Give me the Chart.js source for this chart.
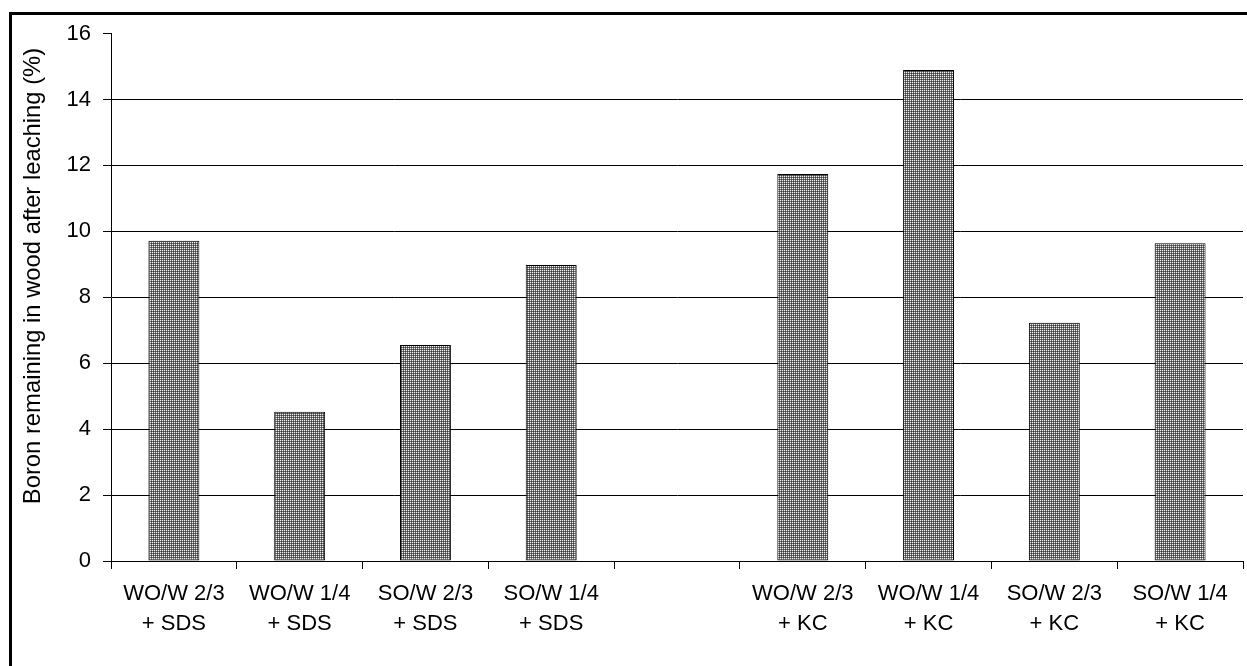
<!DOCTYPE html>
<html>
<head>
<meta charset="utf-8">
<script src="https://cdn.jsdelivr.net/npm/chart.js@4/dist/chart.umd.min.js"></script>
<style>
  html, body { margin: 0; padding: 0; background: #fff; }
  #wrap { width: 1247px; height: 666px; position: relative; }
</style>
</head>
<body>
<div id="wrap"><canvas id="c" width="1247" height="666"></canvas></div>
<script>
// ---- data ----
const categories = [
  ['WO/W 2/3', '+ SDS'],
  ['WO/W 1/4', '+ SDS'],
  ['SO/W 2/3', '+ SDS'],
  ['SO/W 1/4', '+ SDS'],
  '',
  ['WO/W 2/3', '+ KC'],
  ['WO/W 1/4', '+ KC'],
  ['SO/W 2/3', '+ KC'],
  ['SO/W 1/4', '+ KC']
];
const boronRemaining = [9.71, 4.53, 6.55, 8.98, null, 11.74, 14.89, 7.23, 9.64];
const yTicks = [0, 2, 4, 6, 8, 10, 12, 14, 16];
const yTitle = 'Boron remaining in wood after leaching (%)';

// ---- dotted fill pattern ----
function makePattern() {
  const p = document.createElement('canvas');
  p.width = 2; p.height = 2;
  const g = p.getContext('2d');
  g.fillStyle = '#f0f0f0'; g.fillRect(0, 0, 1, 1);
  g.fillStyle = '#707070'; g.fillRect(1, 0, 1, 1); g.fillRect(0, 1, 1, 1);
  g.fillStyle = '#383838'; g.fillRect(1, 1, 1, 1);
  return document.getElementById('c').getContext('2d').createPattern(p, 'repeat');
}

const FONT = 'Liberation Sans, Arial, sans-serif';

const framePlugin = {
  id: 'frame',
  beforeDraw(chart) {
    const ctx = chart.ctx;
    ctx.save();
    ctx.fillStyle = '#fff';
    ctx.fillRect(0, 0, chart.width, chart.height);
    ctx.restore();
  },
  afterDraw(chart) {
    const ctx = chart.ctx;
    ctx.save();
    ctx.strokeStyle = '#000';
    ctx.lineWidth = 3;
    ctx.strokeRect(10.5, 13.5, 1400, 800);
    // y axis title
    ctx.translate(33, 276);
    ctx.rotate(-Math.PI / 2);
    ctx.fillStyle = '#000';
    ctx.font = '23.8px ' + FONT;
    ctx.textAlign = 'center';
    ctx.textBaseline = 'middle';
    ctx.fillText(yTitle, 0, 0);
    ctx.restore();
  }
};

new Chart(document.getElementById('c'), {
  type: 'bar',
  data: {
    labels: categories,
    datasets: [{
      data: boronRemaining,
      backgroundColor: makePattern(),
      borderColor: '#000',
      borderWidth: 1,
      borderSkipped: false,
      barPercentage: 0.405,
      categoryPercentage: 1.0
    }]
  },
  options: {
    responsive: false,
    animation: false,
    devicePixelRatio: 1,
    layout: { padding: { left: 0, top: 33.5, right: 4, bottom: 0 } },
    plugins: { legend: { display: false }, tooltip: { enabled: false } },
    scales: {
      x: {
        afterFit(s) { s.height = 666 - 561; },
        grid: {
          offset: true,
          drawOnChartArea: false,
          drawTicks: true,
          tickLength: 8,
          color: '#000',
          tickColor: '#000',
          lineWidth: 1
        },
        border: { display: true, color: '#000', width: 1 },
        ticks: {
          color: '#000',
          font: { family: FONT, size: 22, lineHeight: 1.364 },
          padding: 10,
          maxRotation: 0,
          autoSkip: false
        }
      },
      y: {
        min: 0,
        max: 16,
        afterFit(s) { s.width = 111; },
        afterBuildTicks(s) { s.ticks = yTicks.map(v => ({ value: v })); },
        grid: {
          drawTicks: true,
          tickLength: 8,
          color: (c) => (c.tick && c.tick.value === 16) ? 'rgba(0,0,0,0)' : '#000',
          tickColor: '#000',
          lineWidth: 1
        },
        border: { display: true, color: '#000', width: 1 },
        ticks: {
          color: '#000',
          font: { family: FONT, size: 22 },
          padding: 12
        },
        title: { display: false }
      }
    }
  },
  plugins: [framePlugin]
});
</script>
</body>
</html>
